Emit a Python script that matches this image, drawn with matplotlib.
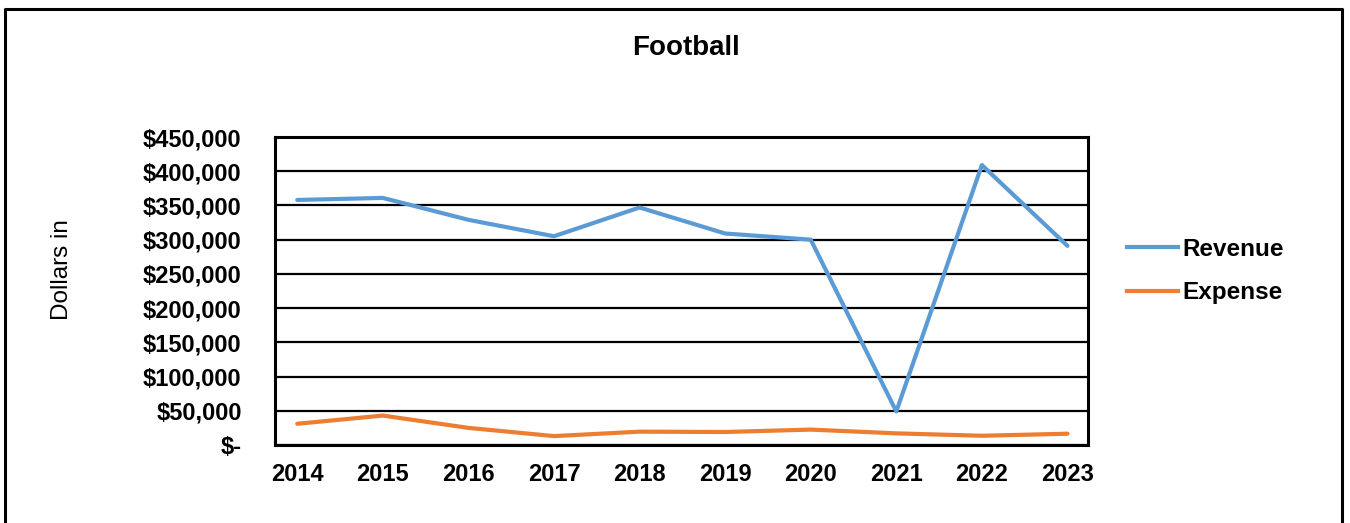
import matplotlib
matplotlib.use("Agg")
import matplotlib.pyplot as plt
from matplotlib.lines import Line2D
from matplotlib.ticker import FuncFormatter

plt.rcParams['font.family'] = ['Liberation Sans', 'DejaVu Sans']

# data
years = ['2014', '2015', '2016', '2017', '2018', '2019', '2020', '2021', '2022', '2023']
revenue = [358000, 361000, 329000, 305000, 347000, 309000, 300000, 49000, 409000, 291000]
expense = [31000, 43000, 25000, 13000, 19500, 19000, 22500, 17000, 13500, 16500]
y_ticks = [0, 50000, 100000, 150000, 200000, 250000, 300000, 350000, 400000, 450000]

blue = '#5B9BD5'
orange = '#ED7D31'

fig = plt.figure(figsize=(13.5, 5.23), dpi=100)
ax = fig.add_axes([275 / 1350, 78 / 523, 813 / 1350, 308 / 523])

x = list(range(len(years)))
ax.plot(x, revenue, color=blue, lw=3, label='Revenue', solid_capstyle='round', zorder=3)
ax.plot(x, expense, color=orange, lw=3, label='Expense', solid_capstyle='round', zorder=3)

ax.set_ylim(0, 450000)
ax.set_xlim(-0.26, 9.24)
ax.set_yticks(y_ticks)
ax.set_xticks(x)
ax.set_xticklabels(years)


def money(v, pos):
    if v == 0:
        return '$-'
    return '${:,.0f}'.format(v)


ax.yaxis.set_major_formatter(FuncFormatter(money))
ax.grid(axis='y', color='black', lw=1.6, zorder=1)
ax.set_axisbelow(True)
ax.tick_params(axis='both', length=0, labelsize=17)
ax.tick_params(axis='y', pad=24)
ax.tick_params(axis='x', pad=13)
for lab in ax.get_xticklabels() + ax.get_yticklabels():
    lab.set_fontweight('bold')
for s in ax.spines.values():
    s.set_linewidth(2.2)
    s.set_color('black')

fig.text(686 / 1350, 1 - 48 / 523, 'Football', ha='center', va='center',
         fontsize=20, fontweight='bold')
fig.text(62 / 1350, 1 - 270 / 523, 'Dollars in', rotation=90, ha='center',
         va='center', fontsize=17.5)

handles = [Line2D([], [], color=blue, lw=3), Line2D([], [], color=orange, lw=3)]
leg = fig.legend(handles, ['Revenue', 'Expense'], loc='center left',
                 bbox_to_anchor=(1105 / 1350, 1 - 271 / 523), frameon=False,
                 prop={'size': 17.5, 'weight': 'bold'}, handlelength=2.1,
                 handletextpad=0.2, labelspacing=0.85)

# outer chart frame (bottom edge is cut off in the reference)
fx = [5 / 1350, 5 / 1350, 1342 / 1350, 1342 / 1350]
fy = [0, 1 - 9 / 523, 1 - 9 / 523, 0]
fig.add_artist(Line2D(fx, fy, color='black', lw=2.2, transform=fig.transFigure))

fig.savefig('out.png', dpi=100)
